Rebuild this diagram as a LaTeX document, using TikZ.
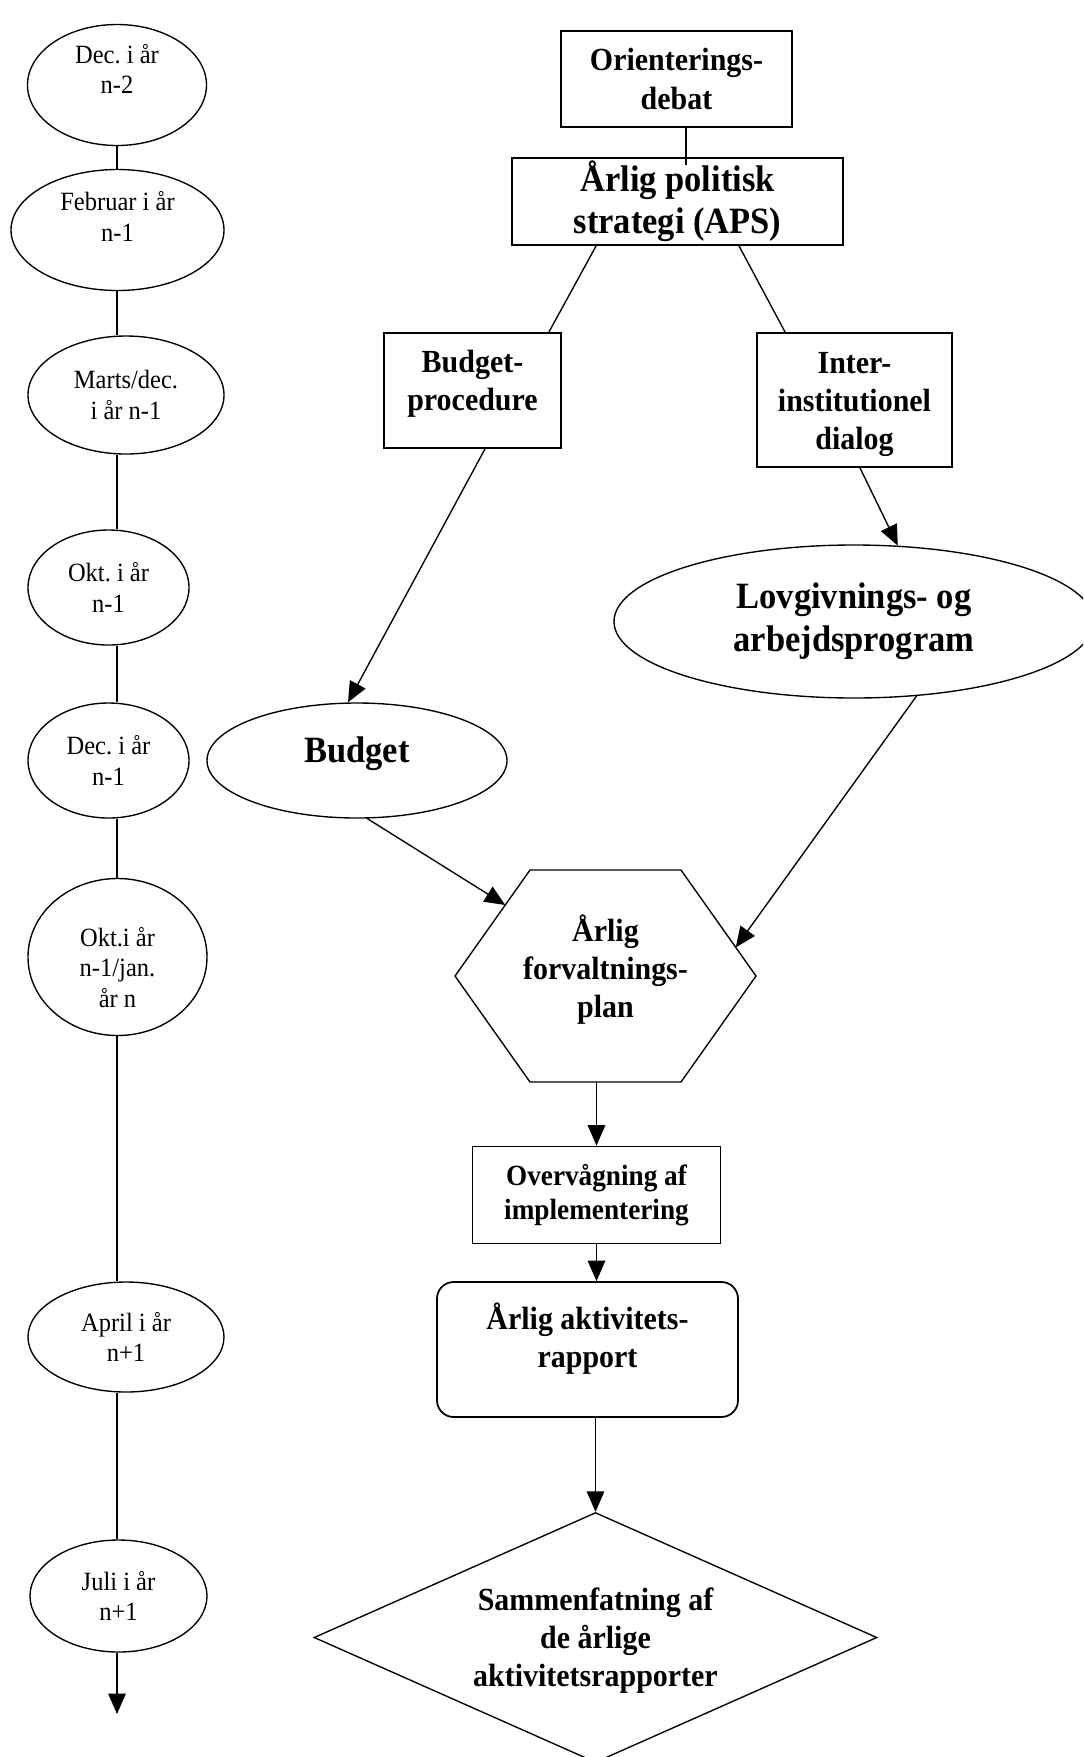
\documentclass[tikz,border=0pt]{standalone}
\usepackage{fontspec}
\setmainfont[FakeStretch=0.93]{Liberation Serif}
\usetikzlibrary{shapes.geometric,arrows.meta,calc}
\frenchspacing
\def\upx{0.018cm}
\newcommand\liftby[2]{\raisebox{#1}[\height][\depth]{\begin{tabular}{@{}c@{}}#2\end{tabular}}}
\tikzset{
    wh/.style 2 args={minimum width=#1*\upx, minimum height=#2*\upx},
    monthnode/.style={draw, ellipse, inner sep=0pt, align=center, line width=0.7pt,
        font=\fontsize{13.5}{15.6}\selectfont},
    stepbox/.style={draw, rectangle, inner sep=0pt, align=center, line width=0.9pt,
        font=\bfseries\fontsize{16.5}{19.5}\selectfont},
    bigoval/.style={draw, ellipse, inner sep=0pt, align=center, line width=0.7pt,
        font=\bfseries\fontsize{19}{22}\selectfont},
    link/.style={line width=0.7pt},
    arr/.style={line width=0.7pt, -{Triangle[length=10.5pt,width=9pt]}},
}

\begin{document}
\begin{tikzpicture}[x=\upx, y=-\upx]
    \useasboundingbox (0,0) rectangle (1083,1757);
    \clip (0,0) rectangle (1083,1757);

    % time line
    \coordinate (tl) at (117,0);
    \node[monthnode, wh={179}{121}] (dectwo) at (117,85) {\liftby{6.4pt}{Dec. i år\\n-2}};
    \node[monthnode, wh={213}{121}] (feb) at (117.5,230) {\liftby{5.1pt}{Februar i år\\n-1}};
    \node[monthnode, wh={196}{118}] (marts) at (126,395) {Marts/dec.\\i år n-1};
    \node[monthnode, wh={161}{115}] (oktone) at (108.5,587.5) {Okt. i år\\n-1};
    \node[monthnode, wh={161}{115}] (decone) at (108.5,760.5) {Dec. i år\\n-1};
    \node[monthnode, wh={179}{157}] (oktjan) at (117.5,957) {\liftby{-6.9pt}{Okt.i år\\n-1/jan.\\år n}};
    \node[monthnode, wh={196}{110}] (april) at (126,1337) {April i år\\n+1};
    \node[monthnode, wh={177}{112}] (juli) at (118.5,1596) {Juli i år\\n+1};
    \coordinate (tlend) at (117,1714);
    \foreach \a/\b in {dectwo/feb, feb/marts, marts/oktone, oktone/decone,
        decone/oktjan, oktjan/april, april/juli}
        \draw[link] (tl |- \a.south) -- (tl |- \b.north);
    \draw[arr] (tl |- juli.south) -- (tlend);

    % procedure
    \node[stepbox, wh={231}{96}] (orient) at (676.5,79) {Orienterings-\\debat};
    \node[stepbox, wh={331}{87}, font=\bfseries\fontsize{19}{21.5}\selectfont] (aps) at (677.5,201.5) {Årlig politisk\\strategi (APS)};
    \node[stepbox, wh={177}{115}] (bp) at (472.5,390.5) {\liftby{3.4pt}{Budget-\\procedure}};
    \node[stepbox, wh={195}{134}] (inter) at (854.5,400) {\liftby{-2pt}{Inter-\\institutionel\\dialog}};
    \node[bigoval, wh={480}{153}] (lov) at (854,621.5) {Lovgivnings- og\\arbejdsprogram};
    \node[bigoval, wh={300}{115}] (budget) at (357,760.5) {\liftby{3.4pt}{Budget}};
    \node[wh={301}{212}, outer sep=0pt, align=center,
        font=\bfseries\fontsize{16.5}{19.5}\selectfont] (plan) at (605.5,976) {\liftby{2.3pt}{Årlig\\forvaltnings-\\plan}};
    \coordinate (plantl) at ($(plan.north west)+(75,0)$);
    \coordinate (plantr) at ($(plan.north east)+(-75,0)$);
    \coordinate (planbl) at ($(plan.south west)+(75,0)$);
    \coordinate (planbr) at ($(plan.south east)+(-75,0)$);
    \draw[link] (plan.west) -- (plantl) -- (plantr) -- (plan.east) -- (planbr) -- (planbl) -- cycle;
    \node[stepbox, wh={248}{97}, font=\bfseries\fontsize{15}{17.2}\selectfont] (ovr) at (596.5,1195) {Overvågning af\\implementering};
    \node[stepbox, wh={301}{135}, rounded corners=0.3cm] (akt) at (587.5,1349.5) {\liftby{4.6pt}{Årlig aktivitets-\\rapport}};
    \node[stepbox, diamond, aspect=2.25, wh={563}{250}, line width=0.7pt] (summ) at (595.5,1637.5) {\liftby{-1.7pt}{Sammenfatning af\\de årlige\\aktivitetsrapporter}};

    \draw[link] ($(orient.south)+(9.5,0)$) -- ($(aps.north)+(8.5,8)$);
    \draw[link] ($(aps.south west)+(85,0)$) -- ($(bp.north east)+(-13,0)$);
    \draw[link] ($(aps.south)+(61.5,0)$) -- ($(inter.north west)+(29,0)$);
    \draw[arr] ($(bp.south)+(12.5,0)$) -- ($(budget.north)+(-9,0)$);
    \draw[arr] ($(inter.south)+(5.5,0)$) -- (lov.60);
    \draw[arr] (budget.-80) -- ($(plan.west)!0.67!(plantl)$);
    \draw[arr] (lov.-50) -- ($(plantr)!0.73!(plan.east)$);
    \draw[arr] (ovr.north |- plan.south) -- (ovr.north);
    \draw[arr] (ovr.south) -- (ovr.south |- akt.north);
    \draw[arr] (summ.north |- akt.south) -- (summ.north);
\end{tikzpicture}
\end{document}
